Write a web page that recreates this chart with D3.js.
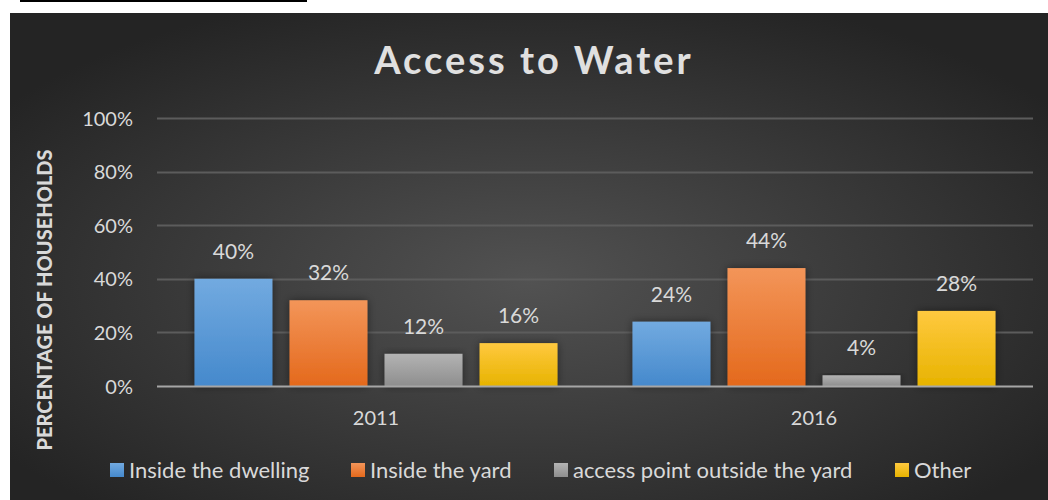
<!DOCTYPE html>
<html>
<head>
<meta charset="utf-8">
<script src="https://cdn.jsdelivr.net/npm/d3@7"></script>
<style>
  html, body { margin: 0; padding: 0; background: #fff; }
  svg { display: block; }
</style>
</head>
<body>
<svg id="chart" width="1048" height="500"></svg>
<script>
// Chart data
const years = ["2011", "2016"];
const seriesNames = ["Inside the dwelling", "Inside the yard", "access point outside the yard", "Other"];
const dwelling = [40, 24];
const yard = [32, 44];
const outsideYard = [12, 4];
const other = [16, 28];
const yTicks = [0, 20, 40, 60, 80, 100];

const seriesValues = [dwelling, yard, outsideYard, other];
const colorStops = [
  ["#72aae0", "#4589cc"],
  ["#f39559", "#e4691c"],
  ["#b3b3b3", "#8e8e8e"],
  ["#ffc93f", "#e7b300"]
];

const svg = d3.select("#chart");
const W = 1048, H = 500;
const font = "Lato, 'Open Sans', sans-serif";

const defs = svg.append("defs");
const bg = defs.append("radialGradient").attr("id", "bg")
  .attr("cx", "50%").attr("cy", "55%").attr("r", "62%");
bg.append("stop").attr("offset", "0%").attr("stop-color", "#525252");
bg.append("stop").attr("offset", "100%").attr("stop-color", "#242424");

colorStops.forEach((c, i) => {
  const g = defs.append("linearGradient").attr("id", "g" + i)
    .attr("x1", 0).attr("y1", 0).attr("x2", 0).attr("y2", 1);
  g.append("stop").attr("offset", "0%").attr("stop-color", c[0]);
  g.append("stop").attr("offset", "100%").attr("stop-color", c[1]);
});
const sh = defs.append("filter").attr("id", "shadow")
  .attr("x", "-20%").attr("y", "-20%").attr("width", "140%").attr("height", "140%");
sh.append("feDropShadow").attr("dx", 0).attr("dy", 0).attr("stdDeviation", 4)
  .attr("flood-color", "#000").attr("flood-opacity", 0.45);

// top rule and background panel
svg.append("rect").attr("x", 20).attr("y", 0).attr("width", 287).attr("height", 2).attr("fill", "#000");
svg.append("rect").attr("x", 10).attr("y", 13).attr("width", W - 10).attr("height", H - 13)
  .attr("fill", "url(#bg)");

const plot = { left: 157, right: 1033, top: 118, bottom: 386 };
const groupWidth = 363;

const y = d3.scaleLinear().domain([0, 100]).range([plot.bottom, plot.top]);
const x0 = d3.scaleBand().domain(years).range([plot.left, plot.right]);
const x1 = d3.scaleBand().domain(d3.range(seriesNames.length))
  .range([0, groupWidth]).paddingInner(0.18);
const groupOffset = (x0.bandwidth() - groupWidth) / 2;

// gridlines
svg.append("g").selectAll("line").data(yTicks.filter(t => t > 0)).join("line")
  .attr("x1", plot.left).attr("x2", plot.right)
  .attr("y1", d => Math.round(y(d)) + 0.5).attr("y2", d => Math.round(y(d)) + 0.5)
  .attr("stroke", "#5c5c5c").attr("stroke-width", 2);

// y axis labels
const yAxis = d3.axisLeft(y).tickValues(yTicks).tickFormat(d => d + "%").tickSize(0).tickPadding(0);
const ya = svg.append("g").attr("transform", `translate(${plot.left - 24},0)`).call(yAxis);
ya.select(".domain").remove();
ya.selectAll("text").attr("fill", "#d9d9d9").style("font-family", font).style("font-size", "20px")
  .attr("dy", "0.35em");

// bars
years.forEach((yr, gi) => {
  const g = svg.append("g").attr("transform", `translate(${x0(yr) + groupOffset},0)`);
  const rows = seriesValues.map((s, si) => ({ si, v: s[gi] }));
  g.selectAll("rect").data(rows).join("rect")
    .attr("x", d => x1(d.si)).attr("width", x1.bandwidth())
    .attr("y", d => y(d.v)).attr("height", d => y(0) - y(d.v))
    .attr("fill", d => `url(#g${d.si})`).attr("filter", "url(#shadow)");
  g.selectAll("text").data(rows).join("text")
    .attr("x", d => x1(d.si) + x1.bandwidth() / 2)
    .attr("y", d => y(d.v) - 20)
    .attr("text-anchor", "middle").attr("fill", "#d9d9d9")
    .style("font-family", font).style("font-size", "21px")
    .text(d => d.v + "%");
});

// baseline
svg.append("line").attr("x1", plot.left).attr("x2", plot.right)
  .attr("y1", plot.bottom + 0.5).attr("y2", plot.bottom + 0.5)
  .attr("stroke", "#a6a6a6").attr("stroke-width", 2);

// category labels
const xAxis = d3.axisBottom(x0).tickSize(0).tickPadding(0);
const xa = svg.append("g").attr("transform", `translate(0,${plot.bottom + 32})`).call(xAxis);
xa.select(".domain").remove();
xa.selectAll("text").attr("fill", "#d9d9d9").style("font-family", font).style("font-size", "20px")
  .attr("dy", "0.35em");

// title
svg.append("text").attr("x", 534).attr("y", 74).attr("text-anchor", "middle")
  .attr("fill", "#e0e0e0").style("font-family", font).style("font-size", "38px")
  .style("font-weight", "bold").style("letter-spacing", "3px").text("Access to Water");

// y axis title
svg.append("text").attr("transform", "translate(52,300) rotate(-90)")
  .attr("text-anchor", "middle").attr("fill", "#d9d9d9")
  .style("font-family", font).style("font-size", "20px").style("font-weight", "900")
  .text("PERCENTAGE OF HOUSEHOLDS");

// legend
const legendX = [110, 351, 554, 895];
const lg = svg.append("g").selectAll("g").data(seriesNames).join("g")
  .attr("transform", (d, i) => `translate(${legendX[i]},470)`);
lg.append("rect").attr("x", 0).attr("y", -7).attr("width", 14).attr("height", 14)
  .attr("fill", (d, i) => `url(#g${i})`);
lg.append("text").attr("x", 19).attr("y", 0).attr("dy", "0.35em").attr("fill", "#d9d9d9")
  .style("font-family", font).style("font-size", "22px").text(d => d);
</script>
</body>
</html>
